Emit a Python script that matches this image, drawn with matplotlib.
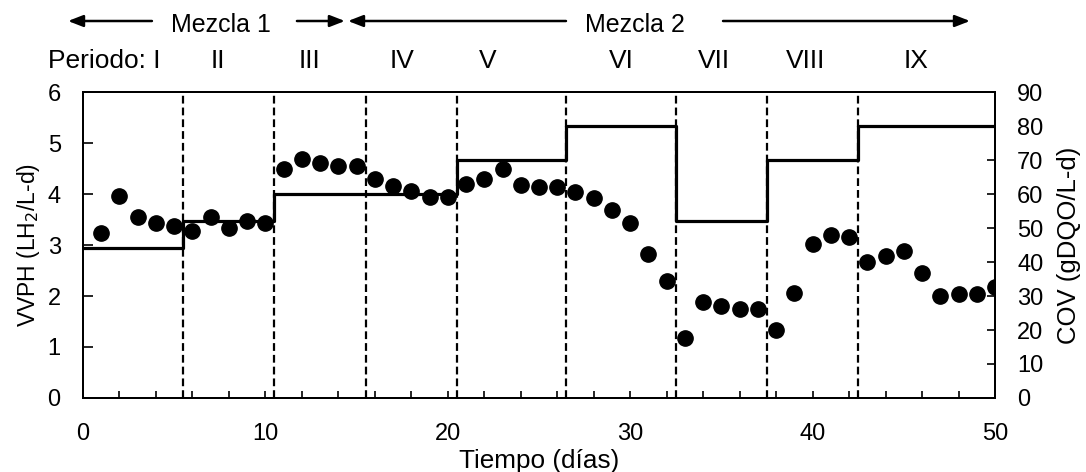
import matplotlib
matplotlib.use("Agg")
import matplotlib.pyplot as plt
from matplotlib.ticker import MultipleLocator
import matplotlib.transforms as mtransforms

plt.rcParams['font.family'] = ['Liberation Sans', 'DejaVu Sans']

# Data
dias = list(range(1, 51))
vvph = [3.24, 3.96, 3.54, 3.43, 3.38, 3.28, 3.54, 3.33, 3.48, 3.44,
        4.49, 4.69, 4.61, 4.54, 4.54, 4.30, 4.16, 4.05, 3.95, 3.95,
        4.20, 4.30, 4.49, 4.17, 4.13, 4.13, 4.03, 3.93, 3.69, 3.44,
        2.82, 2.30, 1.18, 1.89, 1.81, 1.75, 1.75, 1.34, 2.06, 3.02,
        3.19, 3.16, 2.67, 2.79, 2.88, 2.46, 2.00, 2.04, 2.04, 2.17]

cov_edges = [0, 5.5, 10.5, 15.5, 20.5, 26.5, 32.5, 37.5, 42.5, 50]
cov_vals = [44, 52, 60, 60, 70, 80, 52, 70, 80]

cambios = [5.5, 10.5, 15.5, 20.5, 26.5, 32.5, 37.5, 42.5]

periodos = ["Periodo: I", "II", "III", "IV", "V", "VI", "VII", "VIII", "IX"]
periodos_x = [1.15, 7.4, 12.4, 17.5, 22.2, 29.5, 34.6, 39.6, 45.7]

fig = plt.figure(figsize=(10.86, 4.72), dpi=100)
ax = fig.add_axes([0.0764, 0.1568, 0.9162 - 0.0764, 0.805 - 0.1568])
ax2 = ax.twinx()

tick_fs = 17

# step line (COV)
ax2.step(cov_edges, cov_vals + [cov_vals[-1]], where='post', color='black', lw=2.3)
ax2.set_ylim(0, 90)
ax2.yaxis.set_major_locator(MultipleLocator(10))
ax2.set_ylabel("COV (gDQO/L-d)", fontsize=18.5, labelpad=10)
ax2.tick_params(axis='y', direction='in', length=6, width=1.2, labelsize=tick_fs, pad=16)

# dashed lines
for c in cambios:
    ax.axvline(c, color='black', lw=1.6, linestyle=(0, (3.5, 1.8)), zorder=1)

ax.plot(dias, vvph, 'o', color='black', markersize=11, zorder=5)

ax.set_zorder(ax2.get_zorder() + 1)
ax.patch.set_visible(False)

ax.set_xlim(0, 50)
ax.set_ylim(0, 6)
ax.xaxis.set_major_locator(MultipleLocator(10))
ax.xaxis.set_minor_locator(MultipleLocator(2))
ax.yaxis.set_major_locator(MultipleLocator(1))
ax.tick_params(axis='x', which='both', direction='in', length=5, width=1.2, labelsize=tick_fs, pad=18)
ax.tick_params(axis='y', direction='in', length=7, width=1.2, labelsize=tick_fs, pad=16)
ax.set_xlabel("Tiempo (días)", fontsize=18.8, labelpad=3)
ax.set_ylabel("VVPH (LH$_2$/L-d)", fontsize=16.5, labelpad=4)

for a in (ax, ax2):
    for s in a.spines.values():
        s.set_linewidth(1.4)

trans = mtransforms.blended_transform_factory(ax.transData, fig.transFigure)

# period labels
for lbl, x in zip(periodos, periodos_x):
    ax.text(x, 0.871, lbl, transform=trans, ha='center', va='center', fontsize=19, clip_on=False)

# Mezcla annotations
ya = 0.9555
arrow_kw = dict(arrowstyle='-|>,head_length=0.9,head_width=0.35', color='black', lw=1.8,
                shrinkA=0, shrinkB=0)
ax.annotate("", xy=(-0.82, ya), xytext=(3.78, ya), xycoords=trans, textcoords=trans, arrowprops=arrow_kw)
ax.annotate("", xy=(14.36, ya), xytext=(11.73, ya), xycoords=trans, textcoords=trans, arrowprops=arrow_kw)
ax.annotate("", xy=(14.53, ya), xytext=(26.48, ya), xycoords=trans, textcoords=trans, arrowprops=arrow_kw)
ax.annotate("", xy=(48.63, ya), xytext=(35.09, ya), xycoords=trans, textcoords=trans, arrowprops=arrow_kw)
ax.text(7.57, 0.947, "Mezcla 1", transform=trans, ha='center', va='center', fontsize=18)
ax.text(30.26, 0.947, "Mezcla 2", transform=trans, ha='center', va='center', fontsize=18)

fig.savefig("out.png", dpi=100)
